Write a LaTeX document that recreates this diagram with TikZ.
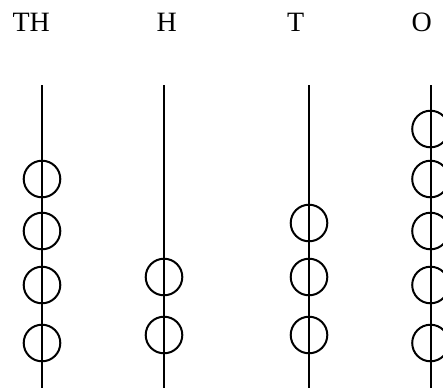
\documentclass[tikz,border=0pt]{standalone}
\usepackage{fontspec}
\setmainfont{Liberation Serif}
\begin{document}
\begin{tikzpicture}[x=0.5pt,y=-0.5pt,
  rod/.style={line width=1pt,black},
  bead/.style={circle,draw=black,line width=1pt,minimum size=18.3pt,inner sep=0pt},
  lbl/.style={anchor=base west,inner sep=0pt,font=\fontsize{14}{16}\selectfont}]
\clip (0,0) rectangle (443,387);
\useasboundingbox (0,0) rectangle (443,387);
\node[lbl] (lTH) at (12.2,31) {TH};
\node[lbl] (lH) at (156.2,31) {H};
\node[lbl] (lT) at (286.6,31) {T};
\node[lbl] (lO) at (411.2,31) {O};
\foreach \n/\x in {a/42,b/164,c/309,d/430.5}{
  \coordinate (\n top) at (\x,85);
  \coordinate (\n bot) at (\x,390);
  \draw[rod] (\n top) -- (\n bot);
}
\foreach \y [count=\i] in {179,231,285,343}{\node[bead] (th\i) at (42,\y) {};}
\foreach \y [count=\i] in {277,335}{\node[bead] (h\i) at (164,\y) {};}
\foreach \y [count=\i] in {223,277,335}{\node[bead] (t\i) at (309,\y) {};}
\foreach \y [count=\i] in {129,179,231,285,343}{\node[bead] (o\i) at (430.5,\y) {};}
\end{tikzpicture}
\end{document}
